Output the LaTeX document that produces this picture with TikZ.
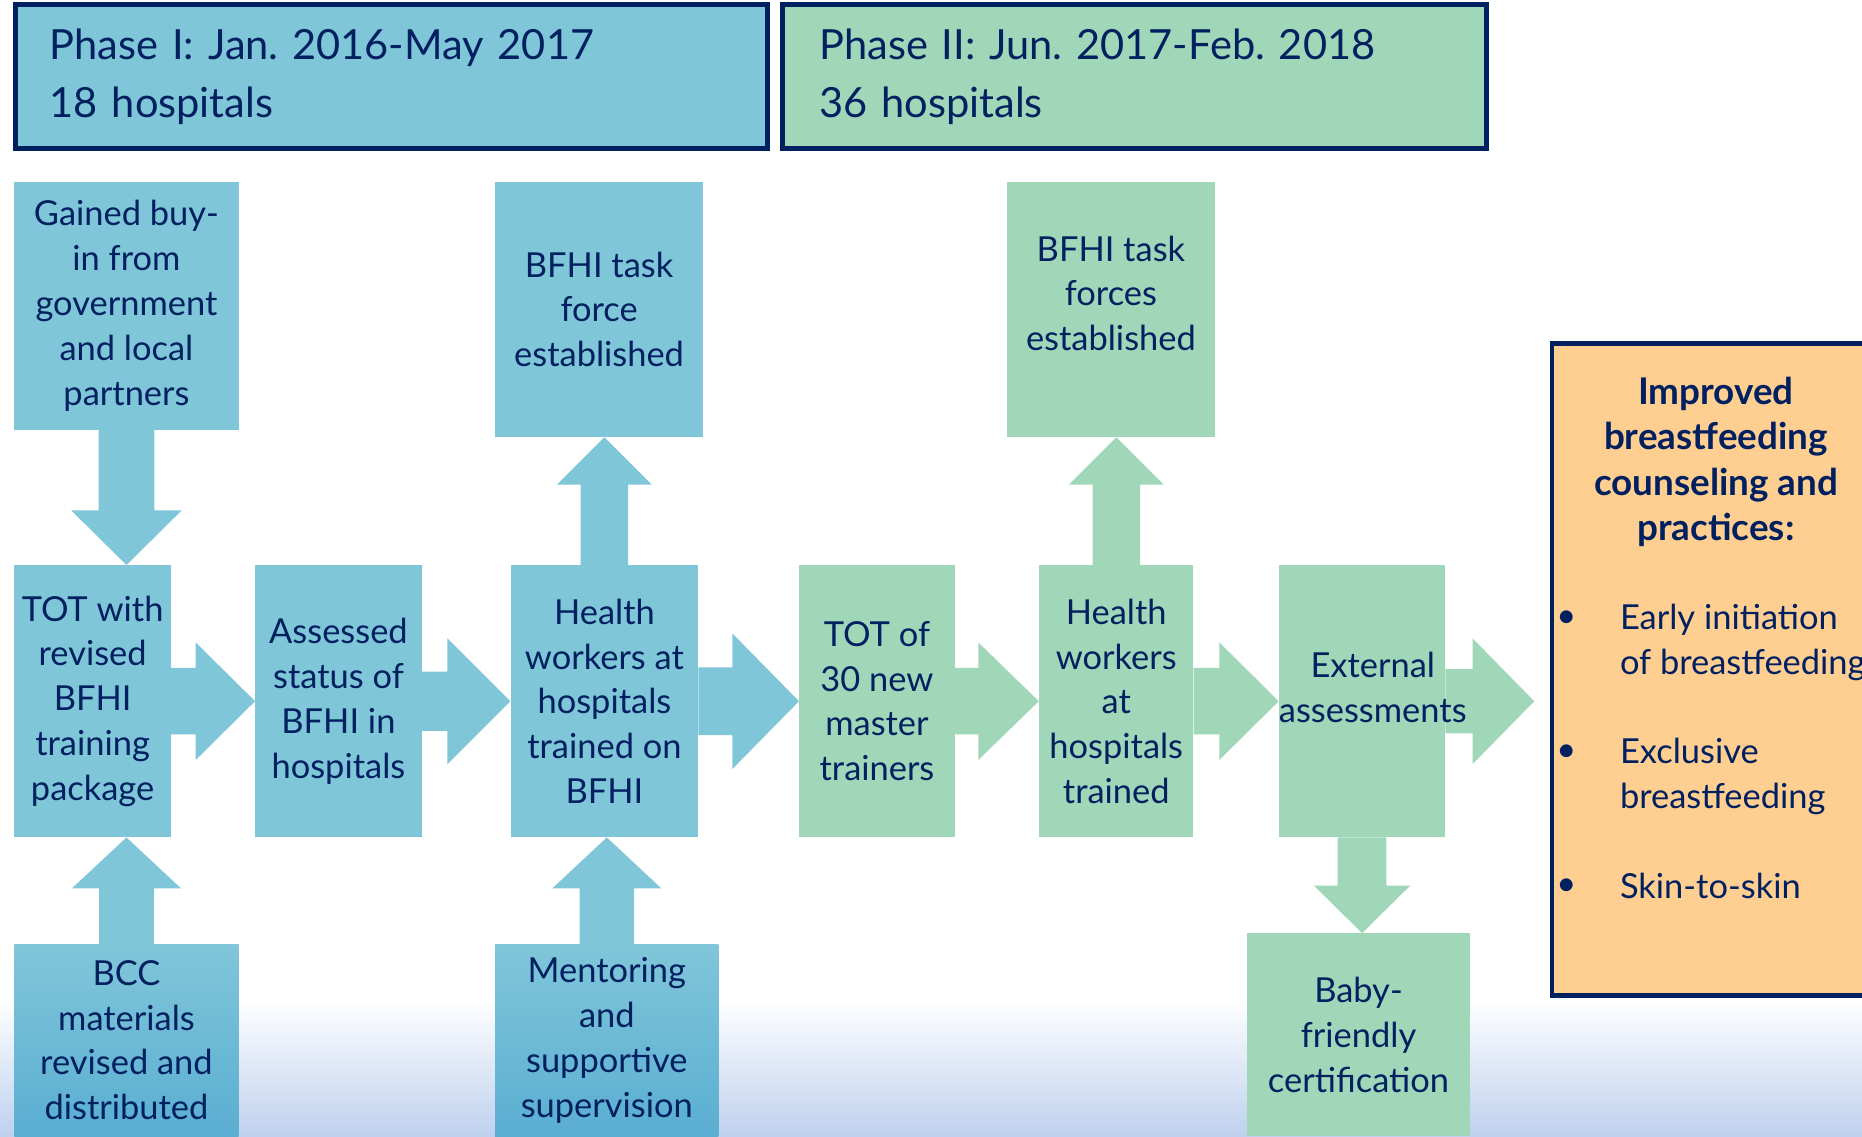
\documentclass[tikz,border=0pt]{standalone}
\usepackage{fontspec}
\setmainfont{Lato}
\usetikzlibrary{calc}
\definecolor{navy}{HTML}{002060}
\definecolor{blueF}{HTML}{80C6D9}
\definecolor{blueD}{HTML}{5AAED2}
\definecolor{greenF}{HTML}{A1D7B9}
\definecolor{orangeF}{HTML}{FFCE91}
\definecolor{bgB}{HTML}{BFD1EE}
\frenchspacing
\newcommand{\boxfont}{\fontsize{29}{37.7}\selectfont}
\newcommand{\headfont}{\fontsize{35}{49}\selectfont}
\newcommand{\titlefont}{\bfseries\fontsize{31}{38}\selectfont}
% block arrows: #1 source anchor, #2 target anchor, #3 head length, #4 shaft half width, #5 head half width, #6 style
\newcommand{\blkR}[6]{\fill[#6] let \p1=(#1), \p2=(#2) in (\x1,\y1+#4pt) -- (\x2-#3pt,\y1+#4pt) -- (\x2-#3pt,\y1+#5pt) -- (\x2,\y1) -- (\x2-#3pt,\y1-#5pt) -- (\x2-#3pt,\y1-#4pt) -- (\x1,\y1-#4pt) -- cycle;}
\newcommand{\blkU}[6]{\fill[#6] let \p1=(#1), \p2=(#2) in (\x1-#4pt,\y1) -- (\x1-#4pt,\y2-#3pt) -- (\x1-#5pt,\y2-#3pt) -- (\x1,\y2) -- (\x1+#5pt,\y2-#3pt) -- (\x1+#4pt,\y2-#3pt) -- (\x1+#4pt,\y1) -- cycle;}
\newcommand{\blkD}[6]{\fill[#6] let \p1=(#1), \p2=(#2) in (\x1-#4pt,\y1) -- (\x1-#4pt,\y2+#3pt) -- (\x1-#5pt,\y2+#3pt) -- (\x1,\y2) -- (\x1+#5pt,\y2+#3pt) -- (\x1+#4pt,\y2+#3pt) -- (\x1+#4pt,\y1) -- cycle;}
\begin{document}
\begin{tikzpicture}[x=1pt,y=-1pt,
  box/.style={rectangle, inner sep=0pt, align=center, text=navy, font=\boxfont},
  bluebox/.style={box, fill=blueF},
  greenbox/.style={box, fill=greenF},
  fadebox/.style={box, top color=blueF, middle color=blueF, bottom color=blueD},
  header/.style={rectangle, draw=navy, line width=4pt, align=left, text=navy, font=\headfont, minimum height=121pt, inner ysep=0pt},
  txt/.style={text=navy, font=\boxfont, inner sep=0pt, align=center},
  bluearrow/.style={blueF},
  greenarrow/.style={greenF}]
\useasboundingbox (0,0) rectangle (1568,957);
\clip (0,0) rectangle (1568,957);
\fill[white] (0,0) rectangle (1568,957);
\shade[top color=white, bottom color=bgB] (0,840) rectangle (1568,957);

% headers
\node[header, fill=blueF, minimum width=633pt, text width=575pt, inner xsep=29pt] (ph1) at (329.5,64.5)
  {Phase I: Jan. 2016-May 2017\\18 hospitals};
\node[header, fill=greenF, minimum width=593pt, text width=531pt, inner xsep=31pt] (ph2) at (955.5,64.5)
  {Phase II: Jun. 2017-Feb. 2018\\36 hospitals};

% top row
\node[bluebox, minimum width=189pt, minimum height=209pt] (gain) at (106.5,257.5)
  {Gained buy-\\in from\\government\\and local\\partners};
\node[bluebox, minimum width=175pt, minimum height=215pt] (tf1) at (504.5,260.5)
  {BFHI task\\force\\established};
\node[greenbox, minimum width=175pt, minimum height=215pt] (tf2) at (935.5,260.5) {};
\node[txt] (tf2t) at (935.5,247) {BFHI task\\forces\\established};

% middle row
\node[bluebox, minimum width=132pt, minimum height=229pt] (tot) at (78,590.5)
  {TOT with\\revised\\BFHI\\training\\package};
\node[bluebox, minimum width=140pt, minimum height=229pt] (ass) at (285,590.5)
  {Assessed\\status of\\BFHI in\\hospitals};
\node[bluebox, minimum width=158pt, minimum height=229pt] (hw) at (509,590.5)
  {Health\\workers at\\hospitals\\trained on\\BFHI};
\node[greenbox, minimum width=131pt, minimum height=229pt] (t30) at (738.5,590.5)
  {TOT of\\30 new\\master\\trainers};
\node[greenbox, minimum width=130pt, minimum height=229pt] (hwg) at (940,590.5)
  {Health\\workers\\at\\hospitals\\trained};
\node[greenbox, minimum width=140pt, minimum height=229pt] (ext) at (1147,590.5) {};

% bottom row
\node[fadebox, minimum width=189pt, minimum height=162pt] (bcc) at (106.5,876)
  {BCC\\materials\\revised and\\distributed};
\node[fadebox, minimum width=188pt, minimum height=162pt] (ment) at (511,876)
  {Mentoring\\and\\supportive\\supervision};
\node[greenbox, minimum width=188pt, minimum height=171pt] (baby) at (1144,871.5)
  {Baby-\\friendly\\certification};

% outcome box
\node[rectangle, draw=navy, line width=4pt, fill=orangeF, minimum width=293pt, minimum height=549pt] (out) at (1453.5,563.5) {};
\node[txt, font=\titlefont] (title) at (1445,389)
  {Improved\\breastfeeding\\counseling and\\practices:};
\node[txt] (b1) at (1319,521) {•};
\node[txt] (b2) at (1319,634) {•};
\node[txt] (b3) at (1319,747) {•};
\node[txt, align=left, anchor=west] (i1) at (1364,541) {Early initiation\\of breastfeeding};
\node[txt, align=left, anchor=west] (i2) at (1364,654) {Exclusive\\breastfeeding};
\node[txt, align=left, anchor=base west] (i3) at (1364,757) {Skin-to-skin};
\coordinate (outtip) at (1292,590.5);

% vertical arrows
\blkD{gain.south}{tot.north}{46}{23.5}{46.5}{bluearrow}
\blkU{bcc.north}{tot.south}{43}{23}{46}{bluearrow}
\blkU{ment.north}{hw.south}{43}{23}{46}{bluearrow}
\blkU{hw.north}{tf1.south}{40}{20}{40}{bluearrow}
\blkU{hwg.north}{tf2.south}{40}{20}{40}{greenarrow}
\blkD{ext.south}{baby.north}{40}{20.5}{40.5}{greenarrow}

% horizontal arrows
\blkR{tot.east}{ass.west}{50}{28}{49.5}{bluearrow}
\blkR{ass.east}{hw.west}{53}{25}{53}{bluearrow}
\blkR{hw.east}{t30.west}{56}{28.5}{57}{bluearrow}
\blkR{t30.east}{hwg.west}{51}{28}{49.5}{greenarrow}
\blkR{hwg.east}{ext.west}{50}{28}{49.5}{greenarrow}
\blkR{ext.east}{outtip}{52}{27}{53}{greenarrow}

% text of the external assessment box, over the arrow shaft
\node[txt] (extt) at (1156,579) {External\\assessments};
\end{tikzpicture}
\end{document}
